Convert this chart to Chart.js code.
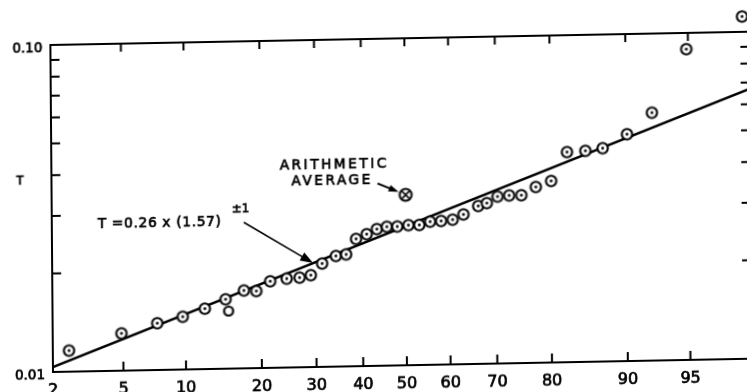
<!DOCTYPE html>
<html>
<head>
<meta charset="utf-8">
<title>T on probability paper</title>
<script src="https://cdn.jsdelivr.net/npm/chart.js@4.4.1/dist/chart.umd.min.js"></script>
<style>
  html, body { margin: 0; padding: 0; background: #fff; overflow: hidden; }
  body { width: 747px; height: 392px; }
  /* the scanned original sits about one degree off square */
  #chart { display: block; transform-origin: 53px 372px; transform: matrix(1, -0.019, 0.008, 1, 0, 0); }
</style>
</head>
<body>
<canvas id="chart" width="760" height="400"></canvas>
<script>
/* ================= DATA ================= */
// cumulative percent of samples (x) and measured T (y)
const samplePct = [2.5, 4.9, 7.4, 9.7, 12.1, 14.7, 17.3, 19.2, 21.5, 24.4,
  26.8, 29.0, 31.3, 34.2, 36.4, 38.6, 41.0, 43.3, 45.6, 48.0,
  50.6, 53.1, 55.6, 58.1, 60.7, 63.1, 66.3, 68.1, 70.3, 72.6,
  74.9, 77.5, 80.1, 82.6, 85.2, 87.4, 90.1, 92.4, 94.9, 97.5];
const sampleT = [0.0116, 0.0130, 0.0139, 0.0145, 0.0153, 0.0163, 0.0173, 0.0172, 0.0184, 0.0187,
  0.0188, 0.0191, 0.0207, 0.0218, 0.0220, 0.0245, 0.0253, 0.0262, 0.0266, 0.0266,
  0.0268, 0.0268, 0.0274, 0.0275, 0.0277, 0.0287, 0.0304, 0.0310, 0.0324, 0.0326,
  0.0326, 0.0345, 0.0359, 0.0439, 0.0442, 0.0449, 0.0494, 0.0573, 0.0892, 0.1114];

// one sample drawn as a plain open circle
const openPct = [15.1];
const openT = [0.0150];

// arithmetic average
const avgPct = [50];
const avgT = [0.0332];

// fitted log-normal line, end points
const fitPct = [2, 97.7];
const fitT = [0.01036, 0.0668];

// axes
const xRangePct = [2, 97.7];
const xTickPct = [2, 5, 10, 20, 30, 40, 50, 60, 70, 80, 90, 95];
const xTickLabels = ["2", "5", "10", "20", "30", "40", "50", "60", "70", "80", "90", "95"];
const yRange = [0.01, 0.13];          // headroom above the frame for the top sample
const yMinorTicks = [0.02, 0.03, 0.04, 0.05, 0.06, 0.07, 0.08, 0.09];
const yTickValues = [0.01, 0.1];
const yTickLabels = ["0.01", "0.10"];

/* ================= PROBABILITY SCALE ================= */
// inverse normal CDF (Acklam), turns a cumulative fraction into a z value
function probit(p) {
  const a = [-3.969683028665376e+01, 2.209460984245205e+02, -2.759285104469687e+02, 1.383577518672690e+02, -3.066479806614716e+01, 2.506628277459239e+00];
  const b = [-5.447609879822406e+01, 1.615858368580409e+02, -1.556989798598866e+02, 6.680131188771972e+01, -1.328068155288572e+01];
  const c = [-7.784894002430293e-03, -3.223964580411365e-01, -2.400758277161838e+00, -2.549671010633035e+00, 4.374664141464968e+00, 2.938163982698783e+00];
  const d = [7.784695709041462e-03, 3.224671290700398e-01, 2.445134137142996e+00, 3.754408661907416e+00];
  const lo = 0.02425;
  let q, r;
  if (p < lo) {
    q = Math.sqrt(-2 * Math.log(p));
    return (((((c[0]*q+c[1])*q+c[2])*q+c[3])*q+c[4])*q+c[5]) / ((((d[0]*q+d[1])*q+d[2])*q+d[3])*q+1);
  }
  if (p <= 1 - lo) {
    q = p - 0.5; r = q * q;
    return (((((a[0]*r+a[1])*r+a[2])*r+a[3])*r+a[4])*r+a[5])*q / (((((b[0]*r+b[1])*r+b[2])*r+b[3])*r+b[4])*r+1);
  }
  q = Math.sqrt(-2 * Math.log(1 - p));
  return -(((((c[0]*q+c[1])*q+c[2])*q+c[3])*q+c[4])*q+c[5]) / ((((d[0]*q+d[1])*q+d[2])*q+d[3])*q+1);
}

const toPoints = (pcts, ts) => pcts.map((p, i) => ({ x: probit(p / 100), y: ts[i] }));

/* ================= MARKERS ================= */
function makeMarker(kind) {
  const s = 17, m = document.createElement("canvas");
  m.width = s; m.height = s;
  const g = m.getContext("2d");
  const c = s / 2;
  const r = kind === "avg" ? 6 : (kind === "open" ? 4.5 : 5.2);
  g.strokeStyle = "#000";
  g.fillStyle = "#fff";
  g.lineWidth = kind === "open" ? 2.2 : 2.1;
  g.beginPath(); g.arc(c, c, r, 0, Math.PI * 2); g.fill(); g.stroke();
  g.fillStyle = "#000";
  if (kind === "dot") {
    g.beginPath(); g.arc(c, c, 1.4, 0, Math.PI * 2); g.fill();
  }
  if (kind === "avg") {
    g.lineWidth = 1.6;
    g.beginPath();
    g.moveTo(c - 3.6, c - 3.6); g.lineTo(c + 3.6, c + 3.6);
    g.moveTo(c + 3.6, c - 3.6); g.lineTo(c - 3.6, c + 3.6);
    g.stroke();
  }
  return m;
}

/* ================= FRAME, TICKS, TEXT ================= */
function arrow(ctx, x1, y1, x2, y2, w, head) {
  const ang = Math.atan2(y2 - y1, x2 - x1);
  const cs = Math.cos(ang), sn = Math.sin(ang);
  ctx.lineWidth = w;
  ctx.beginPath();
  ctx.moveTo(x1, y1);
  ctx.lineTo(x2 - cs * head * 0.8, y2 - sn * head * 0.8);
  ctx.stroke();
  ctx.beginPath();
  ctx.moveTo(x2, y2);
  ctx.lineTo(x2 - head * cs + head * 0.35 * sn, y2 - head * sn - head * 0.35 * cs);
  ctx.lineTo(x2 - head * cs - head * 0.35 * sn, y2 - head * sn + head * 0.35 * cs);
  ctx.closePath();
  ctx.fill();
}

// lettering-guide style text: regular face, thickened with a thin stroke
function letter(ctx, text, x, y, size, spacing, align) {
  ctx.font = size + "px 'DejaVu Sans'";
  ctx.letterSpacing = spacing + "px";
  ctx.textAlign = align;
  ctx.textBaseline = "alphabetic";
  ctx.lineWidth = 0.7;
  ctx.fillText(text, x, y);
  ctx.strokeText(text, x, y);
}

const framePlugin = {
  id: "frame",
  afterDraw(chart) {
    const { ctx, chartArea: a } = chart;
    const xs = chart.scales.x, ys = chart.scales.y;
    const top = ys.getPixelForValue(yTickValues[1]);
    const bottom = a.bottom;
    ctx.save();
    ctx.strokeStyle = "#000";
    ctx.fillStyle = "#000";

    // axis lines (right side runs off the page)
    ctx.lineWidth = 2;
    ctx.beginPath();
    ctx.moveTo(chart.width, top);
    ctx.lineTo(a.left, top);
    ctx.lineTo(a.left, bottom);
    ctx.lineTo(chart.width, bottom);
    ctx.stroke();

    // inward ticks
    ctx.beginPath();
    xTickPct.forEach(p => {
      if (p === xRangePct[0]) return;
      const px = xs.getPixelForValue(probit(p / 100));
      ctx.moveTo(px, bottom); ctx.lineTo(px, bottom - 9);
      ctx.moveTo(px, top); ctx.lineTo(px, top + 8);
    });
    yMinorTicks.forEach(v => {
      const py = ys.getPixelForValue(v);
      ctx.moveTo(a.left, py); ctx.lineTo(a.left + 9, py);
      ctx.moveTo(a.right, py); ctx.lineTo(a.right - 8, py);
    });
    ctx.stroke();

    // tick labels
    xTickPct.forEach((p, i) => {
      letter(ctx, xTickLabels[i], xs.getPixelForValue(probit(p / 100)), bottom + 23, 16, 0, "center");
    });
    yTickValues.forEach((v, i) => {
      letter(ctx, yTickLabels[i], a.left - 8, ys.getPixelForValue(v) + 7, 13.5, 0, "right");
    });

    // axis title
    letter(ctx, "T", 21.5, 183.5, 11.5, 0, "center");

    // arithmetic average note
    letter(ctx, "ARITHMETIC", 281.5, 173.5, 13.7, 2.5, "left");
    letter(ctx, "AVERAGE", 293, 190.3, 13.7, 2.5, "left");
    const ax = xs.getPixelForValue(probit(avgPct[0] / 100));
    const ay = ys.getPixelForValue(avgT[0]);
    ctx.lineWidth = 2;
    arrow(ctx, ax - 28, ay - 12, ax - 7, ay - 3, 2, 10);

    // fit equation note
    letter(ctx, "T =0.26 x (1.57)", 99, 229, 13.7, 0.7, "left");
    letter(ctx, "±1", 233, 215.5, 12, 0, "left");
    arrow(ctx, 245, 226, 314, 268, 1.5, 13);

    ctx.restore();
  }
};

/* ================= CHART ================= */
// 0.01 sits at y=372 and 0.10 at y=45 before the page skew
const decadePx = 327;
const padTop = 45 - decadePx * Math.log10(yRange[1] / yTickValues[1]);

new Chart(document.getElementById("chart"), {
  type: "scatter",
  data: {
    datasets: [
      {
        label: "Average",
        data: toPoints(avgPct, avgT),
        pointStyle: makeMarker("avg")
      },
      {
        label: "Samples",
        data: toPoints(samplePct, sampleT),
        pointStyle: makeMarker("dot"),
        clip: false
      },
      {
        label: "Open",
        data: toPoints(openPct, openT),
        pointStyle: makeMarker("open")
      },
      {
        label: "Fit",
        data: toPoints(fitPct, fitT),
        showLine: true,
        borderColor: "#000",
        borderWidth: 2.5,
        pointRadius: 0
      }
    ]
  },
  options: {
    responsive: false,
    devicePixelRatio: 1,
    animation: false,
    layout: { padding: { left: 53, top: padTop, right: 9, bottom: 28 } },
    plugins: { legend: { display: false }, tooltip: { enabled: false } },
    scales: {
      x: { type: "linear", display: false, min: probit(xRangePct[0] / 100), max: probit(xRangePct[1] / 100) },
      y: { type: "logarithmic", display: false, min: yRange[0], max: yRange[1] }
    }
  },
  plugins: [framePlugin]
});
</script>
</body>
</html>
